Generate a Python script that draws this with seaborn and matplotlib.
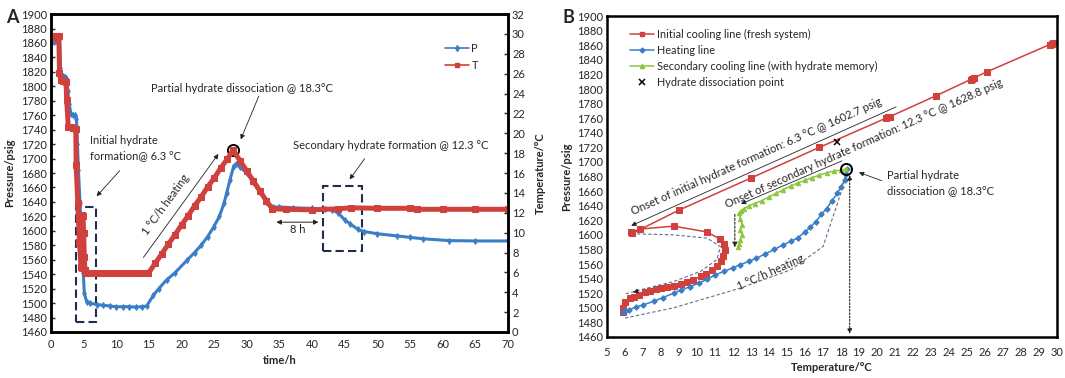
import matplotlib
matplotlib.use('Agg')
import matplotlib.pyplot as plt
import seaborn as sns
from matplotlib.lines import Line2D
from matplotlib.patches import Rectangle

sns.set_style('white')
plt.rcParams['font.family'] = ['Lato', 'DejaVu Sans']
plt.rcParams['font.size'] = 8

red = '#d0413d'
blue = '#3a7ec8'
green = '#8dc63f'
navy = '#1f2d4f'
guide = '#5b6f8c'

# ---- panel A: time series ----
t_T = [0, 0.3, 0.6, 0.9, 1.2, 1.3, 1.5, 1.8, 2.1, 2.3, 2.4, 2.65, 3.0, 3.4, 3.8,
       3.85, 4.1, 4.35, 4.6, 4.7, 4.8, 4.9, 5.0, 5.1, 5.2, 5.4, 6, 7, 8, 9, 10,
       11, 12, 13, 14, 14.9, 16, 17, 18, 19, 20, 21, 22, 23, 24, 25, 26, 27,
       27.9, 29, 30, 31, 32, 33, 33.9, 36, 40, 44, 46, 50, 55, 56, 60, 65, 70]
T_A = [29.6, 29.7, 29.8, 29.8, 29.8, 26.1, 25.4, 25.3, 25.3, 25.2, 23.4, 20.6,
       20.6, 20.5, 20.4, 16.8, 13.0, 9.1, 6.5, 6.4, 11.8, 11.7, 10.0, 7.5, 6.2,
       5.9, 5.9, 5.95, 5.9, 5.9, 5.9, 5.95, 5.9, 5.9, 5.9, 5.9, 6.95, 7.9, 8.86,
       9.8, 10.77, 11.7, 12.7, 13.6, 14.6, 15.5, 16.5, 17.4, 18.3, 17.2, 16.2,
       15.2, 14.2, 13.2, 12.4, 12.35, 12.3, 12.4, 12.5, 12.45, 12.45, 12.35,
       12.35, 12.35, 12.35]

t_P = [0, 0.4, 0.8, 1.1, 1.3, 1.45, 1.6, 1.9, 2.2, 2.35, 2.55, 2.8, 3.05, 3.4,
       3.75, 3.9, 4.05, 4.2, 4.45, 4.7, 4.95, 5.1, 5.45, 6, 7, 8, 9, 10, 11, 12,
       13, 14, 14.65, 15.7, 16.5, 17.7, 19, 20.8, 22, 23, 24, 24.9, 25.8, 26.5,
       26.9, 27.4, 28, 28.4, 29, 30, 31, 32, 33, 34, 35, 37, 40, 42, 43, 44, 45,
       45.8, 47, 48, 50, 53, 55, 57, 61, 65, 70]
P_A = [1860, 1861, 1863, 1865, 1866, 1825, 1816, 1815, 1813, 1812, 1794, 1775,
       1762, 1761, 1760, 1755, 1720, 1684, 1638, 1587, 1541, 1514, 1502, 1500,
       1498, 1497, 1496, 1495, 1495, 1495, 1494.5, 1495, 1496, 1511, 1520, 1532,
       1542, 1559, 1570, 1580, 1592, 1605, 1620, 1638, 1652, 1670, 1690, 1692,
       1688, 1680, 1667, 1654, 1640, 1633, 1633, 1632, 1631, 1630.5, 1629, 1625,
       1615, 1610, 1602, 1599, 1596, 1593, 1591, 1589, 1586.5, 1586, 1586]

# ---- panel B: pressure vs temperature ----
T_cool = [29.8, 29.7, 29.6, 26.1, 25.4, 25.3, 25.2, 23.3, 20.7, 20.6, 20.5, 16.8,
          13.0, 9.0, 6.4, 6.35, 6.85, 8.7, 10.55, 11.3, 11.5, 11.57, 11.44, 11.35,
          11.1, 10.85, 10.5, 10.2, 9.8, 9.45, 9.1, 8.7, 8.35, 8.0, 7.7, 7.4, 7.1,
          6.8, 6.5, 6.3, 6.0, 5.9, 5.87]
P_cool = [1863, 1862, 1861, 1823.5, 1815.5, 1814, 1813, 1791, 1762, 1761, 1760,
          1720, 1678, 1634, 1602, 1604, 1608, 1612, 1604, 1594, 1587, 1579, 1571,
          1564, 1558, 1552, 1547, 1543, 1538.5, 1535, 1532.5, 1530, 1528.5, 1527,
          1525.5, 1523, 1521, 1518, 1515, 1513, 1508.5, 1500, 1494]

T_heat = [5.9, 6.0, 6.2, 6.6, 7.0, 7.6, 8.1, 8.7, 9.1, 9.6, 10.1, 10.56, 11.0,
          11.5, 12.0, 12.4, 12.9, 13.3, 13.8, 14.3, 14.75, 15.2, 15.6, 16.0, 16.3,
          16.6, 16.9, 17.2, 17.5, 17.8, 18.0, 18.2, 18.3, 18.35]
P_heat = [1494, 1496, 1497, 1501, 1504, 1509, 1514, 1520, 1524, 1529, 1534, 1539,
          1545, 1550, 1555, 1559, 1564, 1568, 1574, 1580, 1586, 1591, 1596, 1604,
          1611, 1618, 1628, 1636, 1647, 1657, 1666, 1675, 1683, 1690]

T_cool2 = [18.3, 18.0, 17.6, 17.2, 16.8, 16.4, 16.0, 15.6, 15.2, 14.8, 14.4, 14.0,
           13.6, 13.2, 12.9, 12.6, 12.45, 12.35, 12.4, 12.5, 12.4, 12.5, 12.4,
           12.35, 12.3]
P_cool2 = [1690, 1689, 1687.5, 1685, 1682, 1678.5, 1675, 1671, 1667, 1662, 1657,
           1652, 1647, 1643, 1640, 1636, 1633, 1630, 1622, 1614, 1607, 1600, 1593,
           1588, 1583]

T_diss, P_diss = [17.8], [1727]

# hand-drawn guide curves in panel B
loop_T = [6.67, 8.7, 10.56, 11.3, 11.1, 10.2, 8.7, 6.85, 6.0]
loop_P = [1601.4, 1600, 1595.5, 1584, 1566, 1550, 1536, 1524.7, 1519]
under_T = [6.0, 8.7, 12.4, 15.2, 17.0, 17.96, 18.25]
under_P = [1486, 1500, 1527, 1552, 1584, 1655, 1682]

fig = plt.figure(figsize=(10.65, 3.78), dpi=100)

# ================= A =================
ax = fig.add_axes([0.0479, 0.1217, 0.429, 0.841])
ax2 = ax.twinx()
sns.lineplot(x=t_P, y=P_A, ax=ax, color=blue, marker='d', markersize=3,
             markeredgecolor=blue, linewidth=2.2, sort=False, estimator=None)
sns.lineplot(x=t_T, y=T_A, ax=ax2, color=red, marker='s', markersize=4,
             markeredgecolor=red, linewidth=3.6, sort=False, estimator=None)
ax.set_xlim(0, 70)
ax.set_ylim(1460, 1900)
ax2.set_ylim(0, 32)
ax.set_xticks(range(0, 71, 5))
ax.set_yticks(range(1460, 1901, 20))
ax2.set_yticks(range(0, 33, 2))
ax.set_xlabel('time/h', fontweight='bold', labelpad=4)
ax.set_ylabel('Pressure/psig', fontweight='bold', labelpad=4)
ax2.set_ylabel('Temperature/°C', fontweight='bold', labelpad=7)
for a in (ax, ax2):
    a.tick_params(direction='in', length=3, width=1, labelsize=8, pad=3)
    for s in a.spines.values():
        s.set_color('black')
        s.set_linewidth(1.8)
ax.tick_params(axis='x', pad=5)

hP = Line2D([], [], color=blue, marker='d', markersize=3, lw=1.2)
hT = Line2D([], [], color=red, marker='s', markersize=3.5, lw=1.2)
ax2.legend([hP, hT], ['P', 'T'], loc='upper left', bbox_to_anchor=(0.84, 0.94),
           frameon=False, handlelength=2.2, handletextpad=0.2, labelspacing=0.55,
           fontsize=8)

ax.text(29.2, 1797, 'Partial hydrate dissociation @ 18.3°C', ha='center', va='center')
ax.annotate('', xy=(28.9, 1723), xytext=(32, 1790),
            arrowprops=dict(arrowstyle='-|>', color='#222', lw=0.6, mutation_scale=7))
ax.plot([27.9], [1712], 'o', mfc='none', mec='black', ms=8, mew=1.4)

ax.text(6.0, 1715, 'Initial hydrate\nformation@ 6.3 °C', ha='left', va='center',
        linespacing=1.5)
ax.annotate('', xy=(6.7, 1645), xytext=(10.8, 1686),
            arrowprops=dict(arrowstyle='-|>', color='#222', lw=0.6, mutation_scale=7))
ax.add_patch(Rectangle((3.83, 1473.4), 3.0, 159, fill=False, ec=navy, lw=1.5,
                       ls=(0, (4, 2))))

ax.text(17.6, 1636, '1 °C/h heating', rotation=54, ha='center', va='center',
        rotation_mode='anchor')
ax.annotate('', xy=(25.9, 1709.5), xytext=(13.9, 1560),
            arrowprops=dict(arrowstyle='-|>', color='#222', lw=0.6, mutation_scale=7))

ax.annotate('', xy=(34.1, 1612), xytext=(41.4, 1612),
            arrowprops=dict(arrowstyle='<|-|>', color='#222', lw=0.7, mutation_scale=7))
ax.text(37.8, 1602, '8 h', ha='center', va='center')
ax.add_patch(Rectangle((41.6, 1572), 6.1, 90.4, fill=False, ec=navy, lw=1.5,
                       ls=(0, (4, 2))))
ax.text(52.1, 1718, 'Secondary hydrate formation @ 12.3 °C', ha='center', va='center')
ax.annotate('', xy=(45.5, 1668), xytext=(48.3, 1703),
            arrowprops=dict(arrowstyle='-|>', color='#222', lw=0.6, mutation_scale=7))

# ================= B =================
bx = fig.add_axes([0.570, 0.1085, 0.4225, 0.849])
sns.lineplot(x=T_cool, y=P_cool, ax=bx, color=red, marker='s', markersize=4.3,
             markeredgecolor=red, linewidth=1.1, sort=False, estimator=None)
sns.lineplot(x=T_heat, y=P_heat, ax=bx, color=blue, marker='D', markersize=2.8,
             markeredgecolor=blue, linewidth=1.1, sort=False, estimator=None)
sns.lineplot(x=T_cool2, y=P_cool2, ax=bx, color=green, marker='^', markersize=3.2,
             markeredgecolor=green, linewidth=1.1, sort=False, estimator=None)
bx.plot(T_diss, P_diss, 'x', color='black', ms=5, mew=1.1)
bx.set_xlim(5, 30)
bx.set_ylim(1460, 1900)
bx.set_xticks(range(5, 31, 1))
bx.set_yticks(range(1460, 1901, 20))
bx.set_xlabel('Temperature/°C', fontweight='bold', labelpad=3)
bx.set_ylabel('Pressure/psig', fontweight='bold', labelpad=3)
bx.tick_params(direction='in', length=3, width=1, labelsize=8, pad=3)
bx.tick_params(axis='x', pad=7)
for s in bx.spines.values():
    s.set_color('black')
    s.set_linewidth(1.8)

hc = Line2D([], [], color=red, marker='s', markersize=3, lw=1.1)
hh = Line2D([], [], color=blue, marker='D', markersize=2.5, lw=1.1)
hg = Line2D([], [], color=green, marker='^', markersize=3, lw=1.1)
hx = Line2D([], [], color='black', marker='x', markersize=5, lw=0, mew=1.1)
bx.legend([hc, hh, hg, hx],
          ['Initial cooling line (fresh system)', 'Heating line',
           'Secondary cooling line (with hydrate memory)', 'Hydrate dissociation point'],
          loc='upper left', bbox_to_anchor=(0.03, 0.99), frameon=False,
          handlelength=2.2, handletextpad=0.3, labelspacing=0.45, fontsize=7.8)

# guide curves
bx.plot(loop_T, loop_P, color=guide, lw=0.8, ls=(0, (3, 2)))
bx.annotate('', xy=(6.3, 1520), xytext=(6.9, 1524.5),
            arrowprops=dict(arrowstyle='-|>', color='#222', lw=0.6, mutation_scale=7))
bx.plot(under_T, under_P, color=guide, lw=0.8, ls=(0, (3, 2)))
bx.annotate('', xy=(12.1, 1579), xytext=(12.1, 1632),
            arrowprops=dict(arrowstyle='-|>', color='#222', lw=0.8, ls=(0, (2, 1.5)),
                            mutation_scale=7))
bx.annotate('', xy=(18.48, 1460.5), xytext=(18.48, 1686),
            arrowprops=dict(arrowstyle='<|-|>', color='#222', lw=0.8, ls=(0, (1.5, 1.5)),
                            mutation_scale=7))

# onset lines and labels
bx.annotate('', xy=(6.2, 1611), xytext=(21.2, 1777),
            arrowprops=dict(arrowstyle='-|>', color='#222', lw=0.6, mutation_scale=7))
bx.annotate('', xy=(12.3, 1641), xytext=(18.2, 1703),
            arrowprops=dict(arrowstyle='-|>', color='#222', lw=0.6, mutation_scale=7))
bx.text(13.3, 1708, 'Onset of initial hydrate formation: 6.3 °C @ 1602.7 psig',
        rotation=24, ha='center', va='center', rotation_mode='anchor', fontsize=8)
bx.text(19.3, 1725, 'Onset of secondary hydrate formation: 12.3 °C @ 1628.8 psig',
        rotation=24, ha='center', va='center', rotation_mode='anchor', fontsize=8)
bx.text(14.1, 1549, '1 °C/h heating', rotation=24, ha='center', va='center',
        rotation_mode='anchor', fontsize=8)

bx.plot([18.3], [1690], 'o', mfc='none', mec='black', ms=8, mew=1.4)
bx.annotate('', xy=(18.85, 1687), xytext=(20.4, 1673),
            arrowprops=dict(arrowstyle='-|>', color='#222', lw=0.6, mutation_scale=7))
bx.text(20.55, 1671, 'Partial hydrate\ndissociation @ 18.3°C', ha='left', va='center',
        linespacing=1.5, fontsize=8)

fig.text(0.006, 0.975, 'A', fontsize=13, fontweight='bold', va='top')
fig.text(0.528, 0.975, 'B', fontsize=13, fontweight='bold', va='top')

fig.savefig('out.png', dpi=100)
